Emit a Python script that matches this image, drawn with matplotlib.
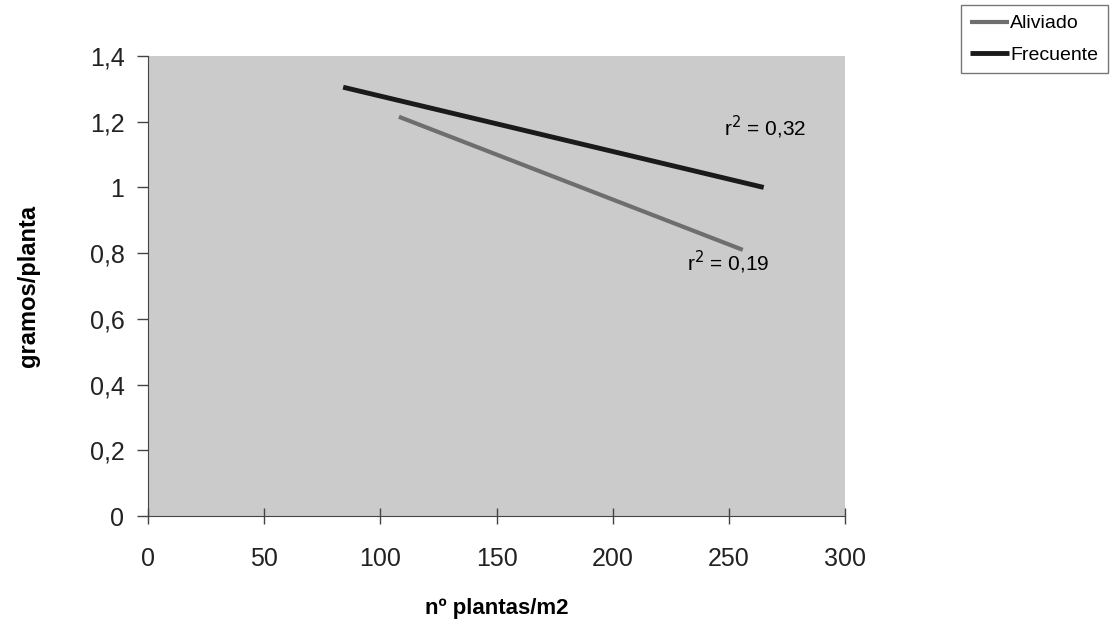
import matplotlib.pyplot as plt

plt.rcParams['font.family'] = ['Liberation Sans', 'DejaVu Sans']

# regression lines (endpoints)
aliviado_x = [108, 256]
aliviado_y = [1.215, 0.81]
frecuente_x = [84, 265]
frecuente_y = [1.305, 1.0]

xticks = [0, 50, 100, 150, 200, 250, 300]
yticks = [0, 0.2, 0.4, 0.6, 0.8, 1, 1.2, 1.4]
ytick_labels = ['0', '0,2', '0,4', '0,6', '0,8', '1', '1,2', '1,4']

fig = plt.figure(figsize=(11.12, 6.34), dpi=100)
ax = fig.add_axes([148 / 1112, 1 - 516 / 634, 697 / 1112, 460 / 634])
ax.set_facecolor('#cbcbcb')

ax.plot(aliviado_x, aliviado_y, color='#6e6e6e', lw=3, label='Aliviado', solid_capstyle='butt')
ax.plot(frecuente_x, frecuente_y, color='#1a1a1a', lw=3.5, label='Frecuente', solid_capstyle='butt')

ax.text(248, 1.184, r'r$^2$ = 0,32', fontsize=15, ha='left', va='center')
ax.text(232, 0.773, r'r$^2$ = 0,19', fontsize=15, ha='left', va='center')

ax.set_xlim(0, 300)
ax.set_ylim(0, 1.4)
ax.set_xticks(xticks)
ax.set_yticks(yticks)
ax.set_yticklabels(ytick_labels)
ax.tick_params(labelsize=18, length=8, width=1, color='#444444', pad=9, labelcolor='#222222')
ax.tick_params(axis='x', direction='inout', length=12, pad=16)
for s in ['top', 'right']:
    ax.spines[s].set_visible(False)
for s in ['left', 'bottom']:
    ax.spines[s].set_color('#444444')

ax.set_xlabel('nº plantas/m2', fontsize=16, fontweight='bold', labelpad=20)
ax.set_ylabel('gramos/planta', fontsize=17, fontweight='bold', labelpad=36)

leg = fig.legend(loc='upper right', bbox_to_anchor=(1108 / 1112, 1 - 5 / 634), fontsize=14,
                 frameon=True, fancybox=False, edgecolor='#555555', handlelength=2.0,
                 handletextpad=0.05, borderpad=0.5, labelspacing=0.7, borderaxespad=0)
leg.get_frame().set_linewidth(1)

fig.savefig('out.png', dpi=100)
